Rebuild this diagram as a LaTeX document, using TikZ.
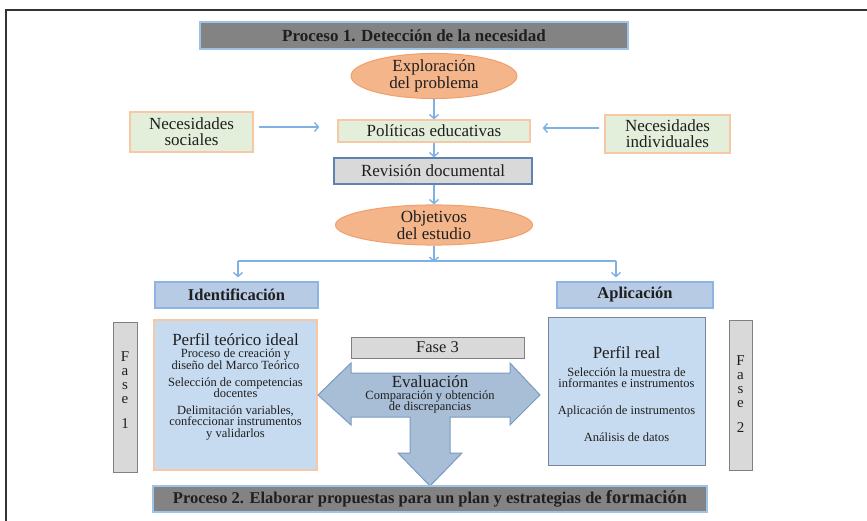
\documentclass[tikz,border=0pt]{standalone}
\usepackage{fontspec}
\setmainfont{Liberation Serif}
\usetikzlibrary{arrows.meta,shapes.geometric}
\newcommand\fsz[2]{\fontsize{#1}{#2}\selectfont}
\definecolor{txt}{HTML}{1F1F1F}
\definecolor{bargray}{HTML}{838383}
\definecolor{barline}{HTML}{9DC3E6}
\definecolor{orfill}{HTML}{F5B58A}
\definecolor{orline}{HTML}{EFA06C}
\definecolor{grfill}{HTML}{E3EFDB}
\definecolor{peach}{HTML}{F7C8A6}
\definecolor{ltgray}{HTML}{D9D9D9}
\definecolor{midgray}{HTML}{808080}
\definecolor{revline}{HTML}{5F83B0}
\definecolor{idfill}{HTML}{B7CBE5}
\definecolor{idline}{HTML}{8DB4E2}
\definecolor{pfill}{HTML}{C7DBF0}
\definecolor{prline}{HTML}{75869C}
\definecolor{bigfill}{HTML}{A8BDD6}
\definecolor{bigline}{HTML}{7A9AC2}
\definecolor{arrcol}{HTML}{7FB2E2}
\definecolor{frame}{HTML}{333333}
\begin{document}
\begin{tikzpicture}[x=1pt,y=-1pt,
  every node/.style={text=txt},
  bx/.style={draw, line width=1.2pt, inner sep=0pt, align=center},
  bar/.style={bx, fill=bargray, draw=barline, font=\fsz{17}{17}\bfseries},
  ell/.style={ellipse, draw=orline, fill=orfill, line width=1pt, inner sep=0pt, align=center, font=\fsz{17}{14.5}},
  grn/.style={bx, fill=grfill, draw=peach, font=\fsz{17}{16}},
  idb/.style={bx, fill=idfill, draw=idline, font=\fsz{16.5}{16}\bfseries},
  fasebox/.style={bx, fill=ltgray, draw=midgray, line width=1pt},
  fasetxt/.style={inner sep=0pt, align=center, font=\fsz{15}{14}},
  tl/.style={inner sep=0pt, anchor=base},
  big/.style={tl, font=\fsz{17}{17}},
  sml/.style={tl, font=\fsz{12.5}{12.5}},
  arr/.style={draw=arrcol, line width=1.4pt, -{Straight Barb[length=4pt,width=9pt]}},
  lin/.style={draw=arrcol, line width=1.4pt}
]
\useasboundingbox (0,0) rectangle (867,521);
% frame
\draw[frame, line width=1.3pt] (867,10) -- (6,10) -- (6,521);

% top chain
\node[bar, minimum width=428, minimum height=27] (p1) at (414,35.5) {Proceso 1. Detección de la necesidad};
\node[ell, minimum width=166, minimum height=32] (expl) at (434,76) {Exploración\\del problema};
\node[grn, minimum width=192, minimum height=22] (pol) at (434,131) {Políticas educativas};
\node[grn, minimum width=123, minimum height=40] (soc) at (191.5,132) {Necesidades\\sociales};
\node[grn, minimum width=125, minimum height=38] (ind) at (667.5,134) {Necesidades\\individuales};
\node[bx, fill=ltgray, draw=revline, minimum width=198, minimum height=26, font=\fsz{17}{17}] (rev) at (433,171) {Revisión documental};
\node[ell, minimum width=197, minimum height=39] (obj) at (434,225) {Objetivos\\del estudio};

\draw[arr] (expl.south) -- (pol.north);
\draw[arr] (pol.south) -- (pol.south |- rev.north);
\draw[arr] (rev.south -| obj.north) -- (obj.north);
\draw[arr] ([xshift=5pt,yshift=5pt]soc.east) -- ([xshift=-18pt,yshift=5pt]soc.east -| pol.west);
\draw[arr] ([xshift=-5pt,yshift=6pt]ind.west) -- ([xshift=12pt,yshift=6pt]ind.west -| pol.east);

% branch
\coordinate (j) at (434,261);
\coordinate (jl) at (238,261);
\coordinate (jr) at (616,261);
\node[idb, minimum width=163, minimum height=26] (ident) at (236.5,295) {Identificación};
\node[idb, minimum width=156, minimum height=26] (apl) at (635,295) {Aplicación};
\draw[arr, shorten >=-1pt] (obj.south) -- (j);
\draw[lin] (jl) -- (jr);
\draw[arr, shorten >=4pt] (jl) -- (jl |- ident.north);
\draw[arr, shorten >=4pt] (jr) -- (jr |- apl.north);

% fase side boxes
\node[fasebox, minimum width=24, minimum height=150] (f1) at (125,397) {};
\node[fasetxt] (f1t) at (125,390) {F\\a\\s\\e\\[11pt]1};
\node[fasebox, minimum width=23, minimum height=150] (f2) at (740.5,395) {};
\node[fasetxt] (f2t) at (740.5,394) {F\\a\\s\\e\\[11pt]2};

% perfil teorico
\node[bx, fill=pfill, draw=peach, minimum width=163, minimum height=150] (pti) at (235.5,395) {};
\node[big] (pti0) at (235.5,345.5) {Perfil teórico ideal};
\node[sml] (pti1) at (235.5,357.5) {Proceso de creación y};
\node[sml] (pti2) at (235.5,369) {diseño del Marco Teórico};
\node[sml] (pti3) at (235.5,386) {Selección de competencias};
\node[sml] (pti4) at (235.5,397.5) {docentes};
\node[sml] (pti5) at (235.5,414) {Delimitación variables,};
\node[sml] (pti6) at (235.5,425.5) {confeccionar instrumentos};
\node[sml] (pti7) at (235.5,437) {y validarlos};

% perfil real
\node[bx, fill=pfill, draw=prline, line width=1pt, minimum width=157, minimum height=148] (pre) at (626.5,391) {};
\node[big] (pre0) at (626.5,358) {Perfil real};
\node[sml] (pre1) at (626.5,376) {Selección la muestra de};
\node[sml] (pre2) at (626.5,387.5) {informantes e instrumentos};
\node[sml] (pre3) at (626.5,414) {Aplicación de instrumentos};
\node[sml] (pre4) at (626.5,441) {Análisis de datos};

% fase 3 and big arrow
\node[fasebox, minimum width=173, minimum height=21, font=\fsz{16.5}{16.5}] (f3) at (437.5,347.5) {Fase 3};
\draw[draw=bigline, fill=bigfill, line width=1pt, line join=miter]
  (318,395) -- (351,363) -- (351,373) -- (510,373) -- (510,363) -- (540,395)
  -- (510,425) -- (510,417) -- (450,417) -- (450,453) -- (462,453) -- (430,486)
  -- (398,453) -- (410,453) -- (410,417) -- (351,417) -- (351,425) -- cycle;
\node[big] (ev0) at (430,387) {Evaluación};
\node[sml] (ev1) at (430,399) {Comparación y obtención};
\node[sml] (ev2) at (430,410) {de discrepancias};

% bottom bar
\node[bar, minimum width=554, minimum height=26, font=\fsz{16.5}{16.5}\bfseries] (p2) at (430,499) {Proceso 2. Elaborar propuestas para un plan y estrategias de {\fsz{18.5}{18.5}formación}};
\end{tikzpicture}
\end{document}
